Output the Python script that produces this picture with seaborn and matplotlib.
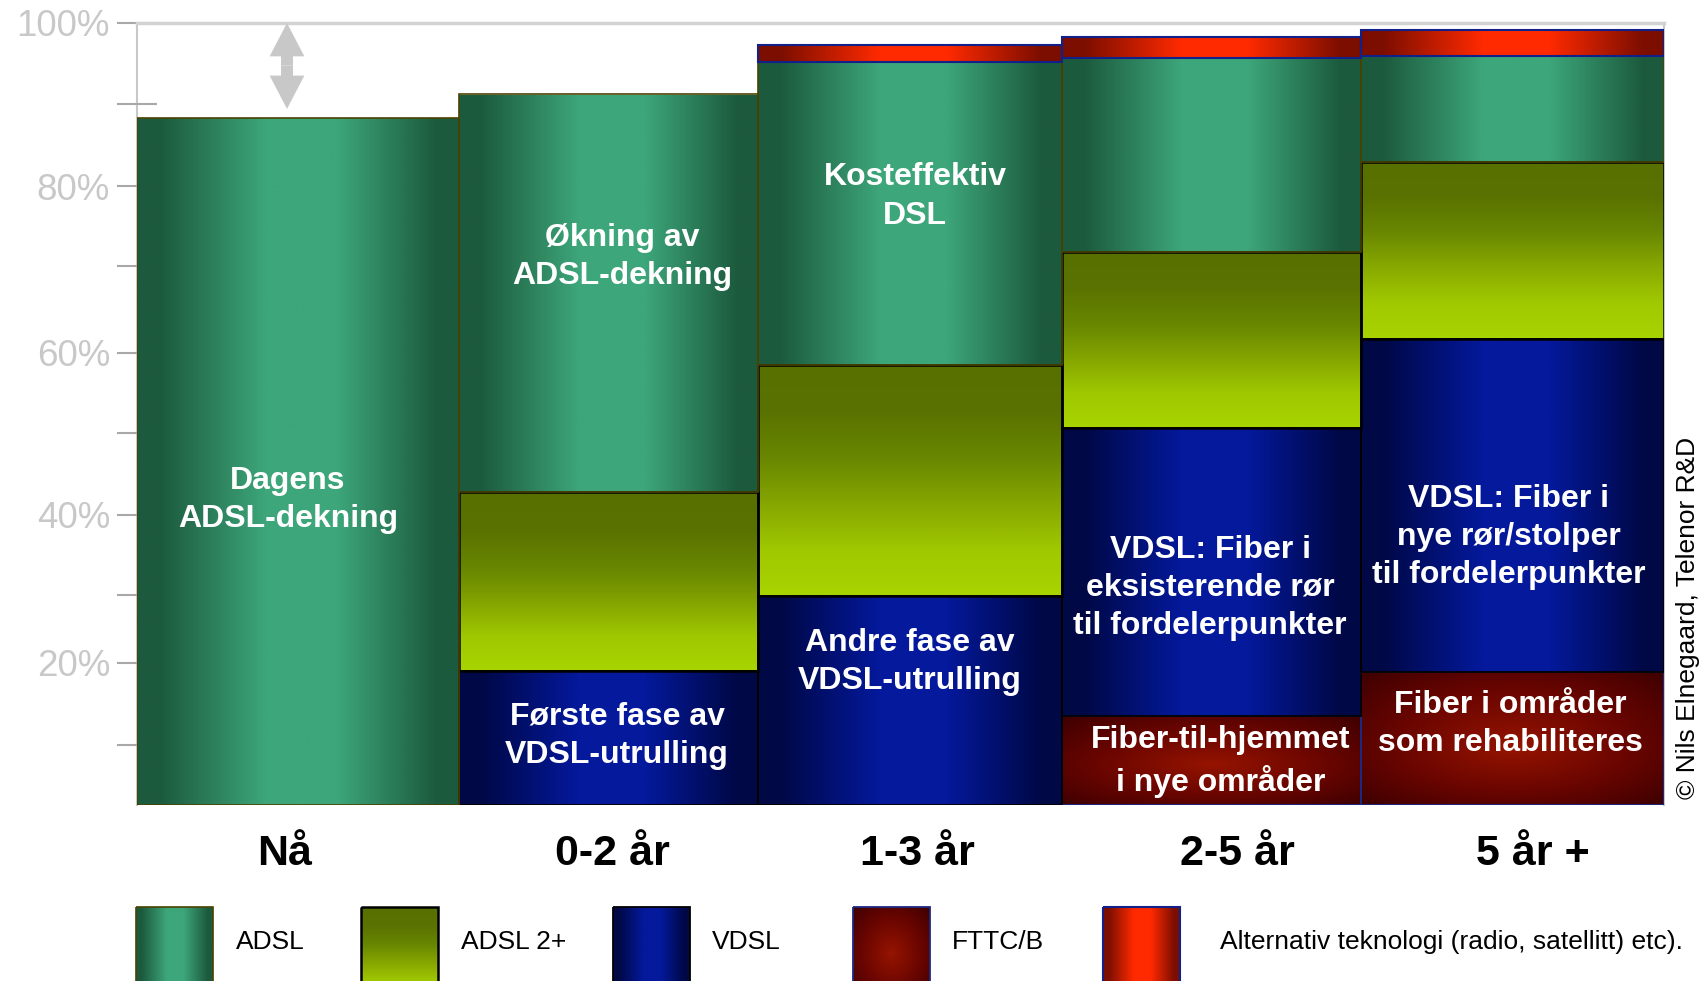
import numpy as np
import matplotlib
matplotlib.use("Agg")
import matplotlib.pyplot as plt
import matplotlib.transforms as mtransforms
import seaborn as sns
from matplotlib import font_manager
from matplotlib.colors import LinearSegmentedColormap
from matplotlib.patches import Rectangle, FancyArrowPatch

sns.set_theme(style="white")
plt.rcParams["font.family"] = ["Liberation Sans", "DejaVu Sans"]

# ---------------------------------------------------------------- data
CATEGORIES = ["Nå", "0-2 år", "1-3 år", "2-5 år", "5 år +"]
FTTC  = [0.0, 0.0, 0.0, 13.5, 18.9]
VDSL  = [0.0, 19.0, 29.9, 37.1, 42.7]
ADSL2 = [0.0, 23.8, 28.6, 21.2, 21.3]
ADSL  = [88.3, 48.4, 36.7, 23.9, 13.0]
ALT   = [0.0, 0.0, 2.1, 2.6, 3.2]

LEGEND_LABELS = ["ADSL", "ADSL 2+", "VDSL", "FTTC/B",
                 "Alternativ teknologi (radio, satellitt) etc)."]

# the original axis is hand drawn: gridmarks are not evenly spaced
Y_TICKS = [0, 10, 20, 30, 40, 50, 60, 70, 80, 90, 100]
Y_TICK_HEIGHT = [0, 60, 142, 210, 290, 372, 452, 539, 619, 701, 782]

BAR_NOTES = [
    (288, 42.2, "Dagens\nADSL-dekning"),
    (622, 71.5, "Økning av\nADSL-dekning"),
    (915, 79.1, "Kosteffektiv\nDSL"),
    (617, 11.5, "Første fase av\nVDSL-utrulling"),
    (910, 20.6, "Andre fase av\nVDSL-utrulling"),
    (1210, 31.3, "VDSL: Fiber i\neksisterende rør\ntil fordelerpunkter"),
    (1221, 7.8, "Fiber-til-hjemmet\ni nye områder"),
    (1509, 37.7, "VDSL: Fiber i\nnye rør/stolper\ntil fordelerpunkter"),
    (1510, 13.0, "Fiber i områder\nsom rehabiliteres"),
]

# ---------------------------------------------------------------- layout
W, H = 1702, 981
AX_L, AX_R, AX_T, AX_B = 137, 1664, 23, 805
BAR_EDGES = np.array([137, 459, 758, 1062, 1361, 1664])
LABEL_X = [285, 612, 917, 1237, 1533]
LEG_BOX_X = [136, 361, 613, 853, 1103]
LEG_TEXT_X = [236, 461, 712, 952, 1220]


def has_font(name):
    try:
        font_manager.findfont(name, fallback_to_default=False)
        return True
    except Exception:
        return False


NARROW = has_font("Liberation Sans Narrow")
LEG_FONT = ["Liberation Sans Narrow", "Liberation Sans"] if NARROW else ["Liberation Sans"]
LEG_SIZE = 22.5 if NARROW else 19


def h_cmap(dark, light):
    return LinearSegmentedColormap.from_list(
        "", [(0, dark), (0.07, dark), (0.40, light), (0.62, light), (0.93, dark), (1, dark)])


CMAPS = {
    "ADSL": h_cmap("#1c5a3e", "#3da67a"),
    "ADSL2": sns.blend_palette(["#a8d400", "#a0c800", "#86a600", "#688600", "#5a7200", "#587000"],
                               as_cmap=True),
    "VDSL": h_cmap("#000846", "#04199c"),
    "FTTC": LinearSegmentedColormap.from_list("", [(0, "#951400"), (0.55, "#690500"), (1, "#3e0000")]),
    "ALT": h_cmap("#7c0e00", "#ff2a00"),
}

_g = np.linspace(0, 1, 512)
_xx, _yy = np.meshgrid(np.linspace(-1, 1, 200), np.linspace(-1, 1, 200))
GRADS = {
    "h": _g[None, :],
    "v": _g[:, None],
    "r": np.clip(np.hypot(_xx, _yy) / np.sqrt(2), 0, 1),
}

LAYERS = [  # name, values, gradient kind, edge colour, edge width
    ("FTTC", FTTC, "r", "#1b2a82", 1.3),
    ("VDSL", VDSL, "h", "#000000", 1.3),
    ("ADSL2", ADSL2, "v", "#000000", 1.8),
    ("ADSL", ADSL, "h", "#4a4200", 1.2),
    ("ALT", ALT, "h", "#12208a", 1.5),
]
LEG_ORDER = [3, 2, 1, 0, 4]


def gradient_fill(ax, patch, cmap, kind, x0, x1, y0, y1):
    im = ax.imshow(GRADS[kind], cmap=cmap, extent=(x0, x1, y0, y1), origin="lower",
                   aspect="auto", interpolation="bilinear", zorder=patch.get_zorder() - 0.05)
    im.set_clip_path(patch)
    patch.set_facecolor("none")


def fwd(v):
    return np.interp(v, Y_TICKS, Y_TICK_HEIGHT)


def inv(h):
    return np.interp(h, Y_TICK_HEIGHT, Y_TICKS)


fig = plt.figure(figsize=(W / 100, H / 100), dpi=100)
ax = fig.add_axes([AX_L / W, 1 - AX_B / H, (AX_R - AX_L) / W, (AX_B - AX_T) / H])
ax.set_yscale("function", functions=(fwd, inv))

centers = (BAR_EDGES[:-1] + BAR_EDGES[1:]) / 2
widths = np.diff(BAR_EDGES)
bottom = np.zeros(len(CATEGORIES))
for name, vals, kind, edge, lw in LAYERS:
    vals = np.asarray(vals, dtype=float)
    m = vals > 0
    bars = ax.bar(centers[m], vals[m], width=widths[m], bottom=bottom[m],
                  edgecolor=edge, linewidth=lw, zorder=2)
    for p in bars:
        gradient_fill(ax, p, CMAPS[name], kind, p.get_x(), p.get_x() + p.get_width(),
                      p.get_y(), p.get_y() + p.get_height())
    bottom += vals

note_tf = mtransforms.offset_copy(ax.transData, fig=fig, x=0, y=-3.3, units="dots")
for x, y, txt in BAR_NOTES:
    ax.text(x, y, txt, ha="center", va="center", color="white", fontsize=23,
            fontweight="bold", linespacing=1.35, zorder=5, transform=note_tf)

# double arrow showing the gap to 100 %
gap_mid = (100 + ADSL[0]) / 2 + 0.6
for tip in (100, ADSL[0] + 1.1):
    ax.add_patch(FancyArrowPatch((LABEL_X[0] + 2, gap_mid), (LABEL_X[0] + 2, tip),
                                 arrowstyle="simple,head_length=24,head_width=25,tail_width=8.6",
                                 mutation_scale=1, shrinkA=0, shrinkB=0, color="#c8c8c8",
                                 lw=0, zorder=3))

ax.set_xlim(AX_L, AX_R)
ax.set_ylim(0, 100)
ax.set_facecolor("white")

ax.set_yticks(Y_TICKS[1:])
ax.set_yticklabels([f"{t}%" if t % 20 == 0 else "" for t in Y_TICKS[1:]])
ax.yaxis.set_minor_locator(matplotlib.ticker.NullLocator())
ax.tick_params(axis="y", left=True, direction="inout", length=28.8, width=1.5,
               color="#a8a8a8", labelcolor="#c8c8c8", labelsize=26.5, pad=5)

ax.set_xticks(LABEL_X)
ax.set_xticklabels(CATEGORIES, fontsize=31, fontweight="bold", color="black")
ax.tick_params(axis="x", bottom=False, length=0, pad=21)

ax.spines["bottom"].set_visible(False)
for s in ("left", "right"):
    ax.spines[s].set_color("#c8c8c8")
    ax.spines[s].set_linewidth(1.5)
    ax.spines[s].set_zorder(0.5)
ax.spines["top"].set_color("#d2d2d2")
ax.spines["top"].set_linewidth(2.5)

# ---------------------------------------------------------------- legend + credit
ov = fig.add_axes([0, 0, 1, 1])
ov.axis("off")
ov.patch.set_visible(False)

sw_w, sw_top, sw_bot = 77, 907, 1000
for i, li in enumerate(LEG_ORDER):
    name, _, kind, edge, lw = LAYERS[li]
    x0 = LEG_BOX_X[i]
    r = Rectangle((x0, sw_top), sw_w, sw_bot - sw_top, facecolor="none",
                  edgecolor=edge, linewidth=lw, zorder=2, clip_on=False)
    ov.add_patch(r)
    gradient_fill(ov, r, CMAPS[name], kind, x0, x0 + sw_w, sw_bot, sw_top)
    ov.text(LEG_TEXT_X[i], 942, LEGEND_LABELS[i], ha="left", va="center",
            fontsize=LEG_SIZE, family=LEG_FONT, color="black")

ov.set_xlim(0, W)
ov.set_ylim(H, 0)
ov.text(1688, 618, "© Nils Elnegaard, Telenor R&D", rotation=90, ha="center",
        va="center", fontsize=19, color="black")

fig.savefig("out.png", dpi=100)
